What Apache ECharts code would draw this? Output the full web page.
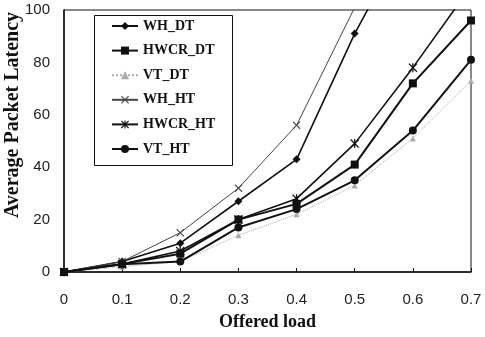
<!DOCTYPE html>
<html><head><meta charset="utf-8">
<script src="https://cdn.jsdelivr.net/npm/echarts@6/dist/echarts.min.js"></script>
<style>html,body{margin:0;padding:0;background:#fff}#c{width:485px;height:337px}</style>
</head><body><div id="c"></div>
<script>
const categories = ['0','0.1','0.2','0.3','0.4','0.5','0.6','0.7'];
const WH_DT   = [0, 4, 11, 27, 43, 91, 132, null];
const HWCR_DT = [0, 3, 7, 20, 26, 41, 72, 96];
const VT_DT   = [0, 2, 4, 14, 22, 33, 51, 73];
const WH_HT   = [0, 4, 15, 32, 56, 101, null, null];
const HWCR_HT = [0, 3, 8, 20, 28, 49, 78, 109];
const VT_HT   = [0, 3, 4, 17, 24, 35, 54, 81];
const yTicks = [0, 20, 40, 60, 80, 100];

const XSYM = 'path://M0,1L1,0L5,4L9,0L10,1L6,5L10,9L9,10L5,6L1,10L0,9L4,5Z';
const ASTER = 'path://M0,1L1,0L5,4L9,0L10,1L6,5L10,9L9,10L5,6L1,10L0,9L4,5ZM4.3,0L5.7,0L5.7,10L4.3,10Z';

function mk(name, data, opts) {
  return Object.assign({
    name, type: 'line', data, connectNulls: false, clip: true,
    lineStyle: {color: '#111', width: 1.6},
    itemStyle: {color: '#111'},
    symbolSize: 8
  }, opts);
}
const series = [
  mk('WH_DT', WH_DT, {symbol: 'diamond', symbolSize: 8}),
  mk('HWCR_DT', HWCR_DT, {symbol: 'rect', symbolSize: 8, lineStyle: {color: '#111', width: 2}}),
  mk('VT_DT', VT_DT, {symbol: 'triangle', symbolSize: 6, lineStyle: {color: '#aaa', width: 1, type: 'dotted'}, itemStyle: {color: '#aaa'}}),
  mk('WH_HT', WH_HT, {symbol: XSYM, symbolSize: 8, lineStyle: {color: '#444', width: 1}, itemStyle: {color: '#444'}}),
  mk('HWCR_HT', HWCR_HT, {symbol: ASTER, symbolSize: 9}),
  mk('VT_HT', VT_HT, {symbol: 'circle', symbolSize: 8, lineStyle: {color: '#111', width: 2}})
];

const chart = echarts.init(document.getElementById('c'), null, {renderer: 'canvas'});
chart.setOption({
  animation: false,
  backgroundColor: '#fff',
  grid: {left: 64, right: 14, top: 10, bottom: 65, show: true, borderColor: '#111', borderWidth: 1},
  xAxis: {
    type: 'category', data: categories, boundaryGap: false,
    name: 'Offered load', nameLocation: 'middle', nameGap: 41,
    nameTextStyle: {fontFamily: 'Liberation Serif', fontWeight: 'bold', fontSize: 18, color: '#111'},
    axisLine: {lineStyle: {color: '#111', width: 1.5}},
    axisTick: {inside: true, length: 4, lineStyle: {color: '#111'}},
    axisLabel: {fontFamily: 'Liberation Sans', fontSize: 15, color: '#222', margin: 20},
    splitLine: {show: false}
  },
  yAxis: {
    type: 'value', min: 0, max: 100, interval: 20,
    axisLine: {show: true, lineStyle: {color: '#111', width: 1.5}},
    axisTick: {show: false},
    axisLabel: {fontFamily: 'Liberation Sans', fontSize: 15, color: '#222', margin: 14,
      formatter: v => yTicks.includes(v) ? String(v) : ''},
    splitLine: {show: false}
  },
  graphic: [{
    type: 'rect', left: 94, top: 15, z: 100,
    shape: {width: 138, height: 150},
    style: {fill: '#fff', stroke: '#111', lineWidth: 1}
  }, {
    type: 'text', x: 13, y: 115, rotation: Math.PI / 2, z: 100,
    style: {text: 'Average Packet Latency', fontFamily: 'Liberation Serif', fontWeight: 'bold',
      fontSize: 20, fill: '#111', align: 'center', verticalAlign: 'middle'}
  }],
  legend: {
    orient: 'vertical', left: 106, top: 14, z: 110,
    itemWidth: 26, itemHeight: 10, itemGap: 10.6,
    textStyle: {fontFamily: 'Liberation Serif', fontWeight: 'bold', fontSize: 14, color: '#111'},
    data: ['WH_DT','HWCR_DT','VT_DT','WH_HT','HWCR_HT','VT_HT']
  },
  series
});
</script></body></html>
